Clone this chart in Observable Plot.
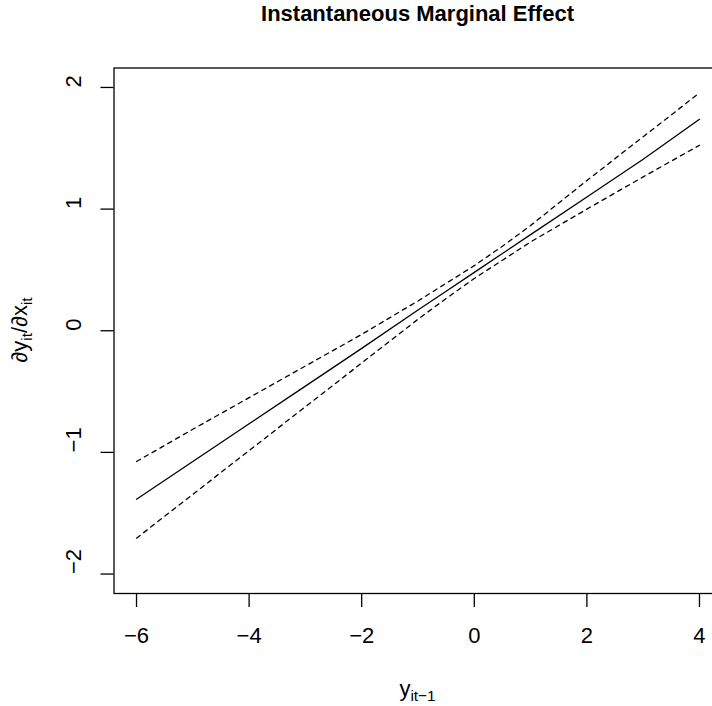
<!DOCTYPE html>
<html>
<head>
<meta charset="utf-8">
<script src="https://cdn.jsdelivr.net/npm/d3@7"></script>
<script src="https://cdn.jsdelivr.net/npm/@observablehq/plot@0.6"></script>
<style>
  html, body { margin: 0; padding: 0; background: white; overflow: hidden; }
  #wrap { position: relative; width: 712px; height: 706px; overflow: hidden; background: white; }
  #wrap svg.plot-svg { position: absolute; left: 0; top: 0; }
  #overlay { position: absolute; left: 0; top: 0; pointer-events: none; }
</style>
</head>
<body>
<div id="wrap"></div>
<script>
// Values
const xVals  = [-6, -5, -4, -3, -2, -1, -0.5, 0, 0.5, 1, 2, 3, 4];
const effect = [-1.385, -1.075, -0.765, -0.455, -0.145, 0.17, 0.325, 0.48, 0.635, 0.79, 1.10, 1.41, 1.738];
const upper  = [-1.075, -0.81, -0.55, -0.29, -0.03, 0.245, 0.39, 0.535, 0.695, 0.865, 1.235, 1.595, 1.955];
const lower  = [-1.705, -1.345, -0.985, -0.625, -0.265, 0.095, 0.265, 0.43, 0.58, 0.73, 1.0, 1.265, 1.525];

const xTicks = [-6, -4, -2, 0, 2, 4];
const xTickLabels = ["\u22126", "\u22124", "\u22122", "0", "2", "4"];
const yTicks = [-2, -1, 0, 1, 2];
const yTickLabels = ["\u22122", "\u22121", "0", "1", "2"];

const titleText = "Instantaneous Marginal Effect";

const table = xVals.map((x, i) => ({x, effect: effect[i], upper: upper[i], lower: lower[i]}));

const font = "'Liberation Sans', Arial, Helvetica, sans-serif";

const chart = Plot.plot({
  width: 722,
  height: 706,
  marginLeft: 113.5,
  marginRight: 0.5,
  marginTop: 67.5,
  marginBottom: 113,
  x: {domain: [-6.4, 4.4]},
  y: {domain: [-2.16, 2.16]},
  style: {fontFamily: font, fontSize: "22px", background: "white", maxWidth: "none", overflow: "visible", color: "black"},
  marks: [
    Plot.axisX({ticks: xTicks, tickSize: 14, tickFormat: () => "", label: null, stroke: "black", strokeWidth: 1.3}),
    Plot.axisY({ticks: yTicks, tickSize: 13, tickFormat: () => "", label: null, stroke: "black", strokeWidth: 1.3}),
    Plot.text(xTicks, {x: d => d, text: (d, i) => xTickLabels[i], frameAnchor: "bottom", dy: 42, lineAnchor: "middle", fontSize: 22, fill: "black"}),
    Plot.text(yTicks, {y: d => d, text: (d, i) => yTickLabels[i], frameAnchor: "left", dx: -40, rotate: -90, lineAnchor: "middle", fontSize: 22, fill: "black"}),
    Plot.line(table, {x: "x", y: "upper", stroke: "black", strokeWidth: 1.3, strokeDasharray: "4.5,4.5"}),
    Plot.line(table, {x: "x", y: "lower", stroke: "black", strokeWidth: 1.3, strokeDasharray: "4.5,4.5"}),
    Plot.line(table, {x: "x", y: "effect", stroke: "black", strokeWidth: 1.3}),
    Plot.frame({stroke: "black", strokeWidth: 1.3})
  ]
});
chart.classList.add("plot-svg");
const wrap = document.getElementById("wrap");
wrap.appendChild(chart);

// Title and axis labels (with subscripts) as real text
const ns = "http://www.w3.org/2000/svg";
const ov = document.createElementNS(ns, "svg");
ov.setAttribute("id", "overlay");
ov.setAttribute("width", 712);
ov.setAttribute("height", 706);
ov.style.fontFamily = font;
ov.innerHTML = `
  <text x="417.5" y="21" text-anchor="middle" font-weight="bold" font-size="22" fill="black">${titleText}</text>
  <text x="417.5" y="696" text-anchor="middle" font-size="22" fill="black">y<tspan font-size="15.4" dy="4.5">it\u22121</tspan></text>
  <g transform="translate(27,330) rotate(-90)">
    <text x="0" y="0" text-anchor="middle" font-size="22" fill="black">\u2202y<tspan font-size="15.4" dy="4.5">it</tspan><tspan dy="-4.5">/\u2202x</tspan><tspan font-size="15.4" dy="4.5">it</tspan></text>
  </g>`;
wrap.appendChild(ov);
</script>
</body>
</html>
